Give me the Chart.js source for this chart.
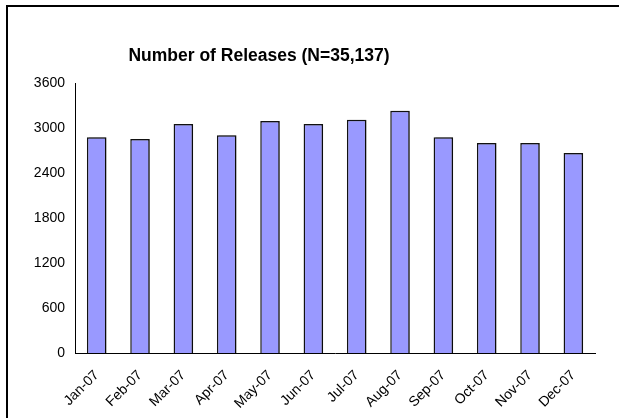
<!DOCTYPE html>
<html>
<head>
<meta charset="utf-8">
<script src="https://cdn.jsdelivr.net/npm/chart.js@4/dist/chart.umd.min.js"></script>
<style>
  html, body { margin: 0; padding: 0; background: #fff; }
  #wrap { width: 619px; height: 418px; position: relative; }
</style>
</head>
<body>
<div id="wrap"><canvas id="releasesChart"></canvas></div>
<script>
// Monthly releases, 2007
const months = ['Jan-07', 'Feb-07', 'Mar-07', 'Apr-07', 'May-07', 'Jun-07',
                'Jul-07', 'Aug-07', 'Sep-07', 'Oct-07', 'Nov-07', 'Dec-07'];
const releases = [2876, 2853, 3053, 2902, 3093, 3053, 3111, 3231, 2876, 2800, 2800, 2667];
const titleText = 'Number of Releases (N=35,137)';
const yMax = 3600;
const yStep = 600;

const fontFamily = '"Liberation Sans", Arial, sans-serif';

// frame lines + title drawn by hand (title sits left of centre in the original)
const framePlugin = {
    id: 'frame',
    beforeDraw(chart) {
        const ctx = chart.ctx;
        ctx.save();
        ctx.fillStyle = '#fff';
        ctx.fillRect(0, 0, chart.width, chart.height);
        ctx.strokeStyle = '#000';
        ctx.lineWidth = 2;
        ctx.beginPath();
        ctx.moveTo(7, chart.height);
        ctx.lineTo(7, 6);
        ctx.lineTo(chart.width, 6);
        ctx.stroke();
        ctx.fillStyle = '#000';
        ctx.font = 'bold 17.5px ' + fontFamily;
        ctx.textAlign = 'center';
        ctx.textBaseline = 'middle';
        ctx.fillText(titleText, 259, 56);
        ctx.restore();
    },
    beforeDatasetsDraw(chart) {
        const ctx = chart.ctx;
        ctx.save();
        ctx.shadowColor = 'rgba(0,0,0,0.3)';
        ctx.shadowOffsetX = 2;
        ctx.shadowOffsetY = 0;
        ctx.shadowBlur = 0;
    },
    afterDatasetsDraw(chart) {
        chart.ctx.restore();
    }
};

const ctx = document.getElementById('releasesChart').getContext('2d');
window.releasesChart = new Chart(ctx, {
    type: 'bar',
    data: {
        labels: months,
        datasets: [{
            data: releases,
            backgroundColor: '#9999ff',
            borderColor: '#111',
            borderWidth: 1.5,
            barPercentage: 0.45,
            categoryPercentage: 1.0
        }]
    },
    options: {
        responsive: true,
        maintainAspectRatio: false,
        animation: false,
        layout: {
            padding: { left: 0, right: 24, top: 83, bottom: 0 }
        },
        plugins: {
            legend: { display: false },
            title: { display: false },
            tooltip: { enabled: false }
        },
        scales: {
            x: {
                grid: { display: false, drawTicks: false },
                border: { display: true, color: '#000', width: 1 },
                ticks: {
                    color: '#000',
                    font: { family: fontFamily, size: 14 },
                    maxRotation: 45,
                    minRotation: 45,
                    padding: 14
                },
                afterFit(scale) { scale.height = 65; }
            },
            y: {
                min: 0,
                max: yMax,
                grid: { display: false, drawTicks: false },
                border: { display: true, color: '#000', width: 1 },
                ticks: {
                    stepSize: yStep,
                    color: '#000',
                    font: { family: fontFamily, size: 14 },
                    padding: 10,
                    callback: (value) => String(value)
                },
                afterFit(scale) { scale.width = 75; }
            }
        }
    },
    plugins: [framePlugin]
});
</script>
</body>
</html>
